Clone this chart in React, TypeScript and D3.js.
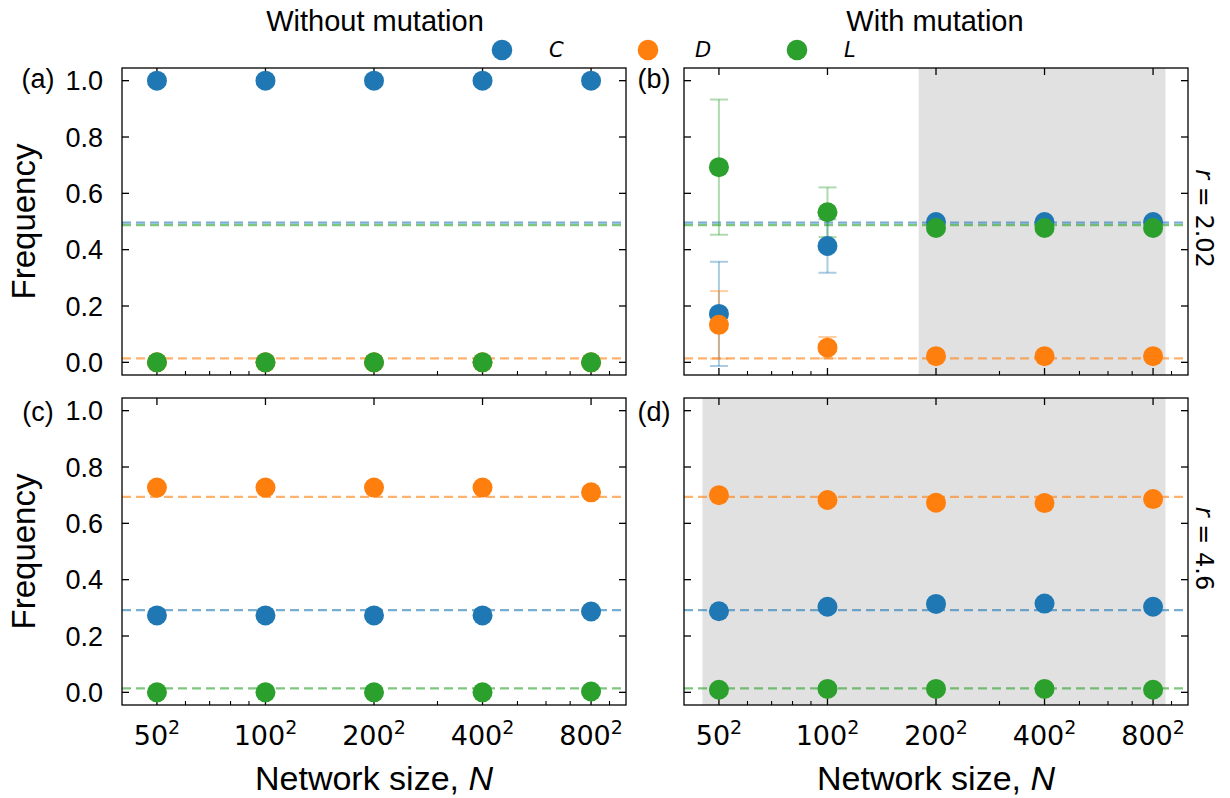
import React from 'react';
import * as d3 from 'd3';

// lattice side length L, network size N = L^2
const sideLengths = [50, 100, 200, 400, 800];
const minorSides = [60, 70, 80, 90, 300, 500, 600, 700, 900];
const yTicks = [0, 0.2, 0.4, 0.6, 0.8, 1.0];
const strategies = ['C', 'D', 'L'];
const colors = ['#1f77b4', '#ff7f0e', '#2ca02c'];

// r = 2.02, without mutation
const noMutLowC = [1.0, 1.0, 1.0, 1.0, 1.0];
const noMutLowD = [0.0, 0.0, 0.0, 0.0, 0.0];
const noMutLowL = [0.0, 0.0, 0.0, 0.0, 0.0];
// r = 2.02, with mutation (mean and error)
const mutLowC = [0.172, 0.413, 0.498, 0.498, 0.498];
const mutLowCErr = [0.185, 0.095, 0, 0, 0];
const mutLowD = [0.133, 0.052, 0.022, 0.022, 0.022];
const mutLowDErr = [0.12, 0.038, 0, 0, 0];
const mutLowL = [0.693, 0.533, 0.477, 0.477, 0.477];
const mutLowLErr = [0.24, 0.088, 0, 0, 0];
// r = 4.6, without mutation
const noMutHighC = [0.273, 0.273, 0.273, 0.273, 0.287];
const noMutHighD = [0.727, 0.727, 0.727, 0.727, 0.71];
const noMutHighL = [0.0, 0.0, 0.0, 0.0, 0.003];
// r = 4.6, with mutation
const mutHighC = [0.288, 0.304, 0.314, 0.315, 0.304];
const mutHighD = [0.7, 0.683, 0.673, 0.672, 0.686];
const mutHighL = [0.009, 0.012, 0.012, 0.012, 0.009];

// mean-field reference values (C, D, L)
const refLow = [0.496, 0.014, 0.487];
const refHigh = [0.292, 0.694, 0.014];

// shaded ranges (in side length L)
const shadeB = [179, 866];
const shadeD = [45, 866];

const SANS = 'Liberation Sans, Arial, sans-serif';
const MATH = 'DejaVu Sans, sans-serif';

type PanelProps = {
  x0: number; y0: number; w: number; h: number;
  series: number[][]; errors?: number[][]; refs: number[];
  shade?: number[]; yLabels: boolean; xLabels: boolean;
};

function Panel({ x0, y0, w, h, series, errors, refs, shade, yLabels, xLabels }: PanelProps) {
  const x = d3.scaleLog().domain([40, 1000]).range([x0, x0 + w]);
  const y = d3.scaleLinear().domain([-0.045, 1.045]).range([y0 + h, y0]);
  const major = 7, minor = 4;
  return (
    <g>
      {shade && (
        <rect x={x(shade[0])} y={y0} width={x(shade[1]) - x(shade[0])} height={h} fill="#e1e1e1" />
      )}
      {/* ticks */}
      {sideLengths.map(t => (
        <g key={'xt' + t} stroke="#000" strokeWidth={1.3}>
          <line x1={x(t)} x2={x(t)} y1={y0 + h} y2={y0 + h - major} />
          <line x1={x(t)} x2={x(t)} y1={y0} y2={y0 + major} />
        </g>
      ))}
      {minorSides.map(t => (
        <line key={'mt' + t} x1={x(t)} x2={x(t)} y1={y0 + h} y2={y0 + h - minor} stroke="#000" strokeWidth={1.1} />
      ))}
      {yTicks.map(t => (
        <g key={'yt' + t} stroke="#000" strokeWidth={1.3}>
          <line x1={x0} x2={x0 + major} y1={y(t)} y2={y(t)} />
          <line x1={x0 + w} x2={x0 + w - major} y1={y(t)} y2={y(t)} />
        </g>
      ))}
      {refs.map((v, i) => (
        <line key={'r' + i} x1={x0} x2={x0 + w} y1={y(v)} y2={y(v)}
          stroke={colors[i]} strokeOpacity={0.6} strokeWidth={2.4} strokeDasharray="9,5" />
      ))}
      {errors && series.map((s, i) => s.map((v, j) => {
        const e = errors[i][j];
        if (!e) return null;
        const cx = x(sideLengths[j]);
        return (
          <g key={'e' + i + j} stroke={colors[i]} strokeOpacity={0.38} strokeWidth={2}>
            <line x1={cx} x2={cx} y1={y(v - e)} y2={y(v + e)} />
            <line x1={cx - 9} x2={cx + 9} y1={y(v - e)} y2={y(v - e)} />
            <line x1={cx - 9} x2={cx + 9} y1={y(v + e)} y2={y(v + e)} />
          </g>
        );
      }))}
      {series.map((s, i) => s.map((v, j) => (
        <circle key={'c' + i + j} cx={x(sideLengths[j])} cy={y(v)} r={10} fill={colors[i]} />
      )))}
      {yLabels && yTicks.map(t => (
        <text key={'yl' + t} x={x0 - 19} y={y(t)} dy="0.36em" textAnchor="end" fontSize={27} fontFamily={SANS}>
          {d3.format('.1f')(t)}
        </text>
      ))}
      {xLabels && sideLengths.map(t => (
        <text key={'xl' + t} x={x(t)} y={y0 + h + 40} textAnchor="middle" fontSize={27} fontFamily={MATH}>
          {t}
          <tspan fontSize={19} dy={-11}>2</tspan>
        </text>
      ))}
      <rect x={x0} y={y0} width={w} height={h} fill="none" stroke="#000" strokeWidth={1.3} />
    </g>
  );
}

export default function App() {
  const W = 1230, H = 798;
  const cols = [122, 684];
  const rows = [68, 398];
  const pw = 504, ph = 307;
  const legendX = [502, 648, 797];
  const tagX = [38, 654];
  const tagY = [88, 421];
  const tags = [['(a)', '(b)'], ['(c)', '(d)']];
  return (
    <div style={{ position: 'absolute', left: 0, top: 0 }}>
      <svg width={W} height={H} viewBox={`0 0 ${W} ${H}`} style={{ display: 'block', background: '#fff' }}>
        <text x={375} y={31} textAnchor="middle" fontSize={29} fontFamily={SANS}>Without mutation</text>
        <text x={935} y={31} textAnchor="middle" fontSize={29} fontFamily={SANS}>With mutation</text>
        {strategies.map((s, i) => (
          <g key={s}>
            <circle cx={legendX[i]} cy={50} r={10.3} fill={colors[i]} />
            <text x={legendX[i] + 47} y={57} fontSize={21} fontStyle="italic" fontFamily={MATH}>{s}</text>
          </g>
        ))}
        <Panel x0={cols[0]} y0={rows[0]} w={pw} h={ph}
          series={[noMutLowC, noMutLowD, noMutLowL]} refs={refLow}
          yLabels={true} xLabels={false} />
        <Panel x0={cols[1]} y0={rows[0]} w={pw} h={ph}
          series={[mutLowC, mutLowD, mutLowL]} errors={[mutLowCErr, mutLowDErr, mutLowLErr]}
          refs={refLow} shade={shadeB} yLabels={false} xLabels={false} />
        <Panel x0={cols[0]} y0={rows[1]} w={pw} h={ph}
          series={[noMutHighC, noMutHighD, noMutHighL]} refs={refHigh}
          yLabels={true} xLabels={true} />
        <Panel x0={cols[1]} y0={rows[1]} w={pw} h={ph}
          series={[mutHighC, mutHighD, mutHighL]}
          refs={refHigh} shade={shadeD} yLabels={false} xLabels={true} />
        {rows.map((r, ri) => cols.map((c, ci) => (
          <text key={'tag' + ri + ci} x={tagX[ci]} y={tagY[ri]} textAnchor="middle" fontSize={27} fontFamily={SANS}>
            {tags[ri][ci]}
          </text>
        )))}
        {rows.map(r => (
          <text key={'fy' + r} transform={`translate(35,${r + ph / 2}) rotate(-90)`} textAnchor="middle"
            fontSize={33} fontFamily={SANS}>Frequency</text>
        ))}
        {cols.map(c => (
          <text key={'fx' + c} x={c + pw / 2} y={790} textAnchor="middle" fontSize={34} fontFamily={SANS}>
            Network size, <tspan fontStyle="italic">N</tspan>
          </text>
        ))}
        {[['r = 2.02', rows[0]], ['r = 4.6', rows[1]]].map(([t, r]) => (
          <text key={String(t)} transform={`translate(1196,${(r as number) + ph / 2 - 3}) rotate(90)`} textAnchor="middle"
            fontSize={24} fontFamily={MATH}>
            <tspan fontStyle="italic">r</tspan>{String(t).slice(1)}
          </text>
        ))}
      </svg>
    </div>
  );
}
